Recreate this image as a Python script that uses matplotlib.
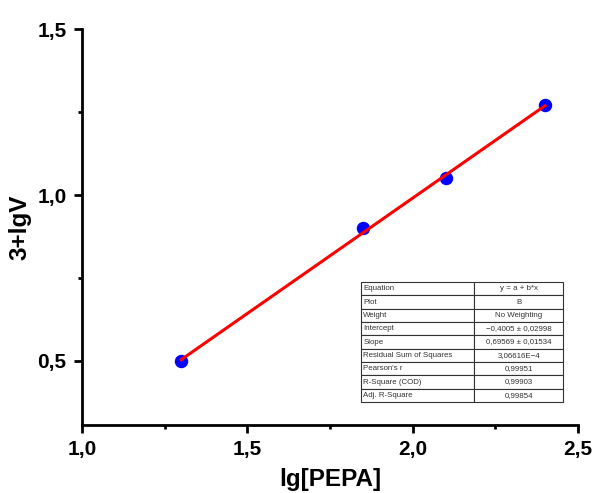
import numpy as np
import matplotlib
matplotlib.use("Agg")
import matplotlib.pyplot as plt
import matplotlib.ticker as mticker

plt.rcParams["font.family"] = ["Liberation Sans", "DejaVu Sans"]

# ── data ───────────────────────────────────────────────
lg_pepa = [1.30, 1.85, 2.10, 2.40]
lg_v3 = [0.50, 0.90, 1.05, 1.27]

intercept = -0.4005
slope = 0.69569

fit_rows = ["Equation", "Plot", "Weight", "Intercept", "Slope",
            "Residual Sum of Squares", "Pearson's r", "R-Square (COD)",
            "Adj. R-Square"]
fit_vals = ["y = a + b*x", "B", "No Weighting",
            "\u22120,4005 \u00b1 0,02998", "0,69569 \u00b1 0,01534",
            "3,06616E\u22124", "0,99951", "0,99903", "0,99854"]

# ── figure ─────────────────────────────────────────────
fig = plt.figure(figsize=(5.96, 4.93), dpi=100)
ax = fig.add_axes([0.1376, 0.138, 0.8324, 0.803])

xs = np.array([min(lg_pepa), max(lg_pepa)])
ax.scatter(lg_pepa, lg_v3, s=75, color="#0000ff", zorder=2)
ax.plot(xs, intercept + slope * xs, color="#ff0000", lw=2.2, zorder=3)

ax.set_xlim(1.0, 2.5)
ax.set_ylim(0.307, 1.5)
ax.xaxis.set_major_locator(mticker.MultipleLocator(0.5))
ax.xaxis.set_minor_locator(mticker.MultipleLocator(0.25))
ax.yaxis.set_major_locator(mticker.FixedLocator([0.5, 1.0, 1.5]))
ax.yaxis.set_minor_locator(mticker.FixedLocator([0.75, 1.25]))
comma = mticker.FuncFormatter(lambda v, _: f"{v:.1f}".replace(".", ","))
ax.xaxis.set_major_formatter(comma)
ax.yaxis.set_major_formatter(comma)

for side in ("top", "right"):
    ax.spines[side].set_visible(False)
for side in ("left", "bottom"):
    ax.spines[side].set_linewidth(2)
ax.tick_params(which="major", length=6, width=2, labelsize=15, pad=5)
ax.tick_params(which="minor", length=3, width=2)
for lab in ax.get_xticklabels() + ax.get_yticklabels():
    lab.set_fontweight("bold")

ax.set_xlabel("lg[PEPA]", fontsize=17.5, fontweight="bold", labelpad=6)
ax.set_ylabel("3+lgV", fontsize=17.5, fontweight="bold", labelpad=4)

# fit summary table
tbl = ax.table(cellText=[[r, v] for r, v in zip(fit_rows, fit_vals)],
               cellLoc="left", colWidths=[0.56, 0.44],
               bbox=[0.5625, 0.058, 0.4075, 0.303])
tbl.auto_set_font_size(False)
for (r, c), cell in tbl.get_celld().items():
    cell.set_linewidth(0.8)
    cell.set_edgecolor("#333333")
    cell.get_text().set_fontsize(5.7)
    cell.get_text().set_color("#333333")
    cell.PAD = 0.02
    if c == 1:
        cell.get_text().set_horizontalalignment("center")
        cell._loc = "center"

fig.savefig("out.png", dpi=100)
